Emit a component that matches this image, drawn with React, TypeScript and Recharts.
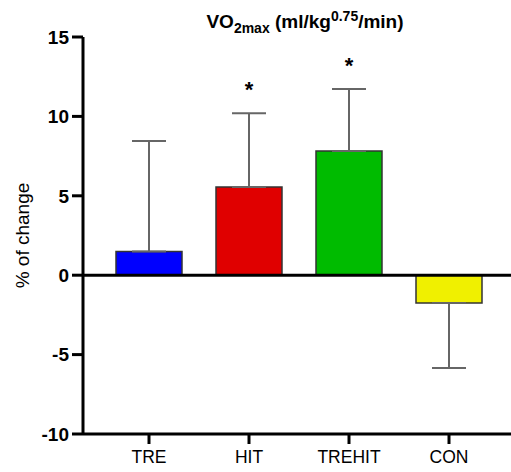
import React from 'react';
import {
  BarChart,
  Bar,
  Cell,
  XAxis,
  YAxis,
  ErrorBar,
  LabelList,
  ReferenceLine,
} from 'recharts';

// values
const groups = ['TRE', 'HIT', 'TREHIT', 'CON'];
const means = [1.5, 5.55, 7.82, -1.75];
const sdUp = [6.95, 4.65, 3.9, 0];
const sdDown = [0, 0, 0, 4.1];
const marks = ['', '*', '*', ''];
const barColors = ['#0000FF', '#E00000', '#00BB00', '#F0F000'];
const yTicks = [-10, -5, 0, 5, 10, 15];

const data = groups.map((g, i) => ({
  group: g,
  change: means[i],
  err: [sdDown[i], sdUp[i]],
  mark: marks[i],
}));

const FONT = '"Liberation Sans", Arial, sans-serif';

// asterisk sits above the top of the error bar
const StarLabel = (props: any) => {
  const { x, y, width, height, value, index } = props;
  if (!value) return null;
  const perUnit = height / means[index];
  const errTop = y - sdUp[index] * perUnit;
  return (
    <text
      x={x + width / 2}
      y={errTop - 16}
      textAnchor="middle"
      fontFamily={FONT}
      fontWeight="bold"
      fontSize={22}
      fill="#000"
    >
      {value}
    </text>
  );
};

const App: React.FC = () => {
  return (
    <div style={{ position: 'absolute', left: 0, top: 0, width: 511, height: 472, background: '#fff' }}>
      <div
        style={{
          position: 'absolute',
          top: 4,
          left: 100,
          width: 410,
          textAlign: 'center',
          fontFamily: FONT,
          fontWeight: 'bold',
          fontSize: 19,
          whiteSpace: 'nowrap',
          lineHeight: '24px',
        }}
      >
        VO<sub style={{ fontSize: 14 }}>2max</sub> (ml/kg<sup style={{ fontSize: 14 }}>0.75</sup>/min)
      </div>
      <BarChart
        width={511}
        height={472}
        data={data}
        margin={{ top: 37, right: 0, bottom: 0, left: 0 }}
      >
        <XAxis
          dataKey="group"
          height={38}
          padding={{ left: 16, right: 12 }}
          axisLine={{ stroke: '#000', strokeWidth: 3 }}
          tickLine={{ stroke: '#000', strokeWidth: 3 }}
          tickSize={10}
          tickMargin={7}
          tick={{ fill: '#000', fontFamily: FONT, fontSize: 17.5 }}
        />
        <YAxis
          width={83}
          domain={[-10, 15]}
          ticks={yTicks}
          interval={0}
          axisLine={{ stroke: '#000', strokeWidth: 3 }}
          tickLine={{ stroke: '#000', strokeWidth: 3 }}
          tickSize={11}
          tickMargin={3}
          tick={{ fill: '#000', fontFamily: FONT, fontSize: 19, fontWeight: 'bold' }}
          label={{
            value: '% of change',
            angle: -90,
            position: 'insideLeft',
            offset: 22,
            style: { fill: '#000', fontFamily: FONT, fontSize: 19, textAnchor: 'middle' },
          }}
        />
        <Bar
          dataKey="change"
          barSize={66}
          stroke="#333"
          strokeWidth={1.5}
          isAnimationActive={false}
        >
          {data.map((d, i) => (
            <Cell key={d.group} fill={barColors[i]} />
          ))}
          <ErrorBar dataKey="err" direction="y" width={17} stroke="#666" strokeWidth={2} />
          <LabelList dataKey="mark" content={StarLabel} />
        </Bar>
        <ReferenceLine y={0} stroke="#000" strokeWidth={3} />
      </BarChart>
    </div>
  );
};

export default App;
